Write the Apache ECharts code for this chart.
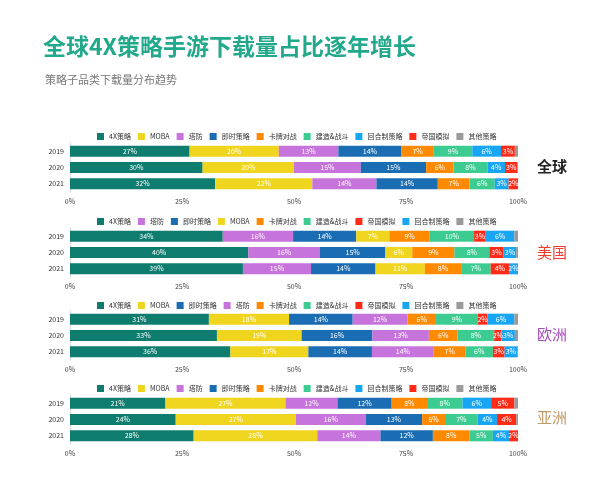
<!DOCTYPE html>
<html>
<head>
<meta charset="utf-8">
<script src="https://cdn.jsdelivr.net/npm/echarts@6/dist/echarts.min.js"></script>
<style>
  html, body { margin: 0; padding: 0; background: #fff; }
  #chart { width: 600px; height: 483px; }
</style>
</head>
<body>
<div id="chart"></div>
<script>
// years shown on each panel's category axis
const years = ['2019', '2020', '2021'];
const xTicks = ['0%', '25%', '50%', '75%', '100%'];

// subgenre order (= stack order = legend order) for each region
const globalOrder = ['4X策略', 'MOBA', '塔防', '即时策略', '卡牌对战', '建造&战斗', '回合制策略', '帝国模拟', '其他策略'];
const usOrder = ['4X策略', '塔防', '即时策略', 'MOBA', '卡牌对战', '建造&战斗', '帝国模拟', '回合制策略', '其他策略'];
const euOrder = ['4X策略', 'MOBA', '即时策略', '塔防', '卡牌对战', '建造&战斗', '帝国模拟', '回合制策略', '其他策略'];
const asiaOrder = ['4X策略', 'MOBA', '塔防', '即时策略', '卡牌对战', '建造&战斗', '回合制策略', '帝国模拟', '其他策略'];

// download share (%) per subgenre, rows follow the order arrays, columns = years
const globalShares = [
  [26.7, 29.6, 32.4], [19.9, 20.4, 21.7], [13.3, 14.9, 14.3], [14.1, 14.6, 13.7],
  [7.2, 6.1, 7.1], [8.6, 7.6, 5.6], [6.4, 3.9, 3.1], [3.1, 2.8, 2.1], [0.7, 0.1, 0]
];
const usShares = [
  [34.1, 39.8, 38.6], [15.7, 16.0, 15.2], [14.1, 14.6, 14.4], [7.4, 6.0, 11.0],
  [9.0, 9.4, 8.1], [9.9, 7.8, 6.6], [2.6, 3.2, 4.1], [6.4, 2.8, 2.0], [0.8, 0.4, 0]
];
const euShares = [
  [31.0, 32.8, 35.8], [17.9, 18.9, 17.4], [14.2, 15.8, 14.2], [12.2, 12.6, 13.8],
  [6.4, 6.4, 7.1], [9.3, 8.2, 6.1], [2.2, 1.6, 2.6], [6.0, 3.0, 2.8], [0.8, 0.7, 0.2]
];
const asiaShares = [
  [21.3, 23.6, 27.6], [26.8, 26.8, 27.6], [11.6, 15.6, 14.1], [12.1, 12.6, 11.7],
  [7.9, 5.1, 8.2], [7.9, 7.3, 5.2], [6.4, 4.3, 3.6], [5.2, 4.3, 2.0], [0.8, 0.4, 0]
];

const regionNames = ['全球', '美国', '欧洲', '亚洲'];

const colors = {
  '4X策略': '#0e7c6e',
  'MOBA': '#f0d51e',
  '塔防': '#c673dc',
  '即时策略': '#1a6db3',
  '卡牌对战': '#ff8a00',
  '建造&战斗': '#3ccc92',
  '回合制策略': '#18a6f4',
  '帝国模拟': '#ff2b17',
  '其他策略': '#9a9a9a'
};
const regionColors = ['#222222', '#f23b2d', '#a64bbd', '#c19a6b'];

const panels = [
  { order: globalOrder, shares: globalShares, top: 143, legendTop: 128 },
  { order: usOrder, shares: usShares, top: 228, legendTop: 213 },
  { order: euOrder, shares: euShares, top: 311, legendTop: 297 },
  { order: asiaOrder, shares: asiaShares, top: 395, legendTop: 380 }
];
const FONT = '"Noto Sans CJK SC", "Noto Sans", sans-serif';

const grid = [], xAxis = [], yAxis = [], legend = [], series = [];

panels.forEach((p, i) => {
  grid.push({ left: 70, right: 82, top: p.top, height: 49 });
  xAxis.push({
    gridIndex: i, type: 'value', min: 0, max: 100, interval: 25,
    axisLine: { show: false }, axisTick: { show: false }, splitLine: { show: false },
    axisLabel: { fontSize: 7, color: '#444', fontFamily: FONT, margin: 6,
      formatter: (v) => xTicks[v / 25] }
  });
  yAxis.push({
    gridIndex: i, type: 'category', data: years, inverse: true,
    axisLine: { show: true, lineStyle: { color: '#d9d9d9' } },
    axisTick: { show: false },
    axisLabel: { fontSize: 7, color: '#333', fontFamily: FONT, margin: 6 }
  });
  legend.push({
    top: p.legendTop, left: 92, itemWidth: 7, itemHeight: 7, itemGap: 7,
    icon: 'rect', textStyle: { fontSize: 7, color: '#333', fontFamily: FONT },
    data: p.order.map(n => ({ name: n, itemStyle: { color: colors[n] } })),
    selectedMode: false
  });
  p.order.forEach((name, k) => {
    series.push({
      name: name, type: 'bar', stack: 'p' + i,
      xAxisIndex: i, yAxisIndex: i, barWidth: 11,
      itemStyle: { color: colors[name] },
      label: {
        show: name !== '其他策略', position: 'inside', color: '#fff',
        fontSize: 7, fontFamily: FONT,
        formatter: (d) => Math.round(d.value) + '%'
      },
      data: p.shares[k]
    });
  });
});

const chart = echarts.init(document.getElementById('chart'));
chart.setOption({
  backgroundColor: '#fff',
  animation: false,
  title: [
    { text: '全球4X策略手游下载量占比逐年增长', left: 38, top: 30,
      textStyle: { fontSize: 23, fontWeight: 'bold', color: '#22a88a', fontFamily: FONT } },
    { text: '策略子品类下载量分布趋势', left: 40, top: 69,
      textStyle: { fontSize: 11, fontWeight: 'normal', color: '#777', fontFamily: FONT } }
  ],
  graphic: regionNames.map((r, i) => ({
    type: 'text', left: 537, top: [159, 245, 327, 410][i],
    style: { text: r, fontSize: 15, fontWeight: i === 0 ? 'bold' : 'normal',
      fill: regionColors[i], fontFamily: FONT }
  })),
  grid: grid, xAxis: xAxis, yAxis: yAxis, legend: legend, series: series
});
</script>
</body>
</html>
